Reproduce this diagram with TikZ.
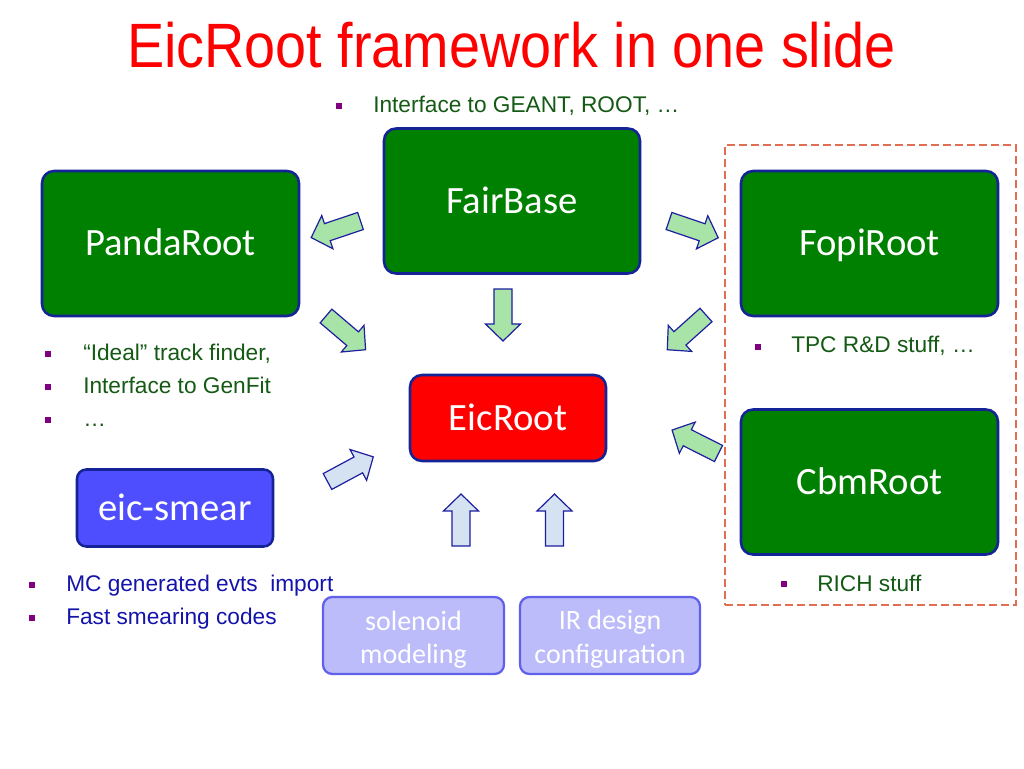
\documentclass[tikz,border=0pt]{standalone}
\usepackage{graphicx}
\usepackage{fontspec}
\setmainfont{Liberation Sans}
\newfontfamily\carlito{Carlito}
\definecolor{boxgreen}{RGB}{0,128,0}
\definecolor{boxborder}{RGB}{20,36,150}
\definecolor{arrgreen}{RGB}{168,228,168}
\definecolor{arrblue}{RGB}{212,226,242}
\definecolor{arrborder}{RGB}{30,30,160}
\definecolor{txtgreen}{RGB}{20,90,20}
\definecolor{txtblue}{RGB}{20,20,170}
\definecolor{bulletc}{RGB}{128,0,128}
\definecolor{smearblue}{RGB}{78,78,255}
\definecolor{lav}{RGB}{188,188,250}
\definecolor{lavborder}{RGB}{96,96,235}
\definecolor{dashred}{RGB}{225,110,80}
\tikzset{
  barrow/.pic={\draw[pic actions] (0,-9) -- (35,-9) -- (35,-17.5) -- (52,0) -- (35,17.5) -- (35,9) -- (0,9) -- cycle;},
  garrow/.style={fill=arrgreen, draw=arrborder, line width=0.9pt, line join=miter},
  larrow/.style={fill=arrblue, draw=arrborder, line width=0.9pt, line join=miter},
  box/.style={draw=boxborder, line width=1.9pt, rounded corners=9pt, inner sep=0pt,
    text=white, font=\carlito\fontsize{29}{35}\selectfont, text height=18.7pt, text depth=0pt},
  bigbox/.style={box, fill=boxgreen, minimum width={257*0.75pt}, minimum height={145*0.75pt}},
  lavbox/.style={draw=lavborder, line width=1.7pt, rounded corners=7pt, fill=lav, inner sep=0pt,
    minimum height={77*0.75pt}},
  lavtxt/.style={anchor=base, inner sep=0pt, text=white, font=\carlito\fontsize{21}{25}\selectfont},
  bullet/.style={fill=bulletc, inner sep=0pt, minimum size=5.2pt},
  txt/.style={anchor=base west, inner sep=0pt, font=\fontsize{17}{20}\selectfont},
  grp/.style={draw=dashred, line width=1pt, dash pattern=on 6pt off 3pt,
    minimum width={291*0.75pt}, minimum height={460*0.75pt}, inner sep=0pt}
}
\begin{document}
\begin{tikzpicture}[x=0.75pt,y=-0.75pt]
\useasboundingbox (0,0) rectangle (1024,768);
\fill[white] (0,0) rectangle (1024,768);

% title
\node[anchor=base, inner sep=0pt, text=red, font=\fontsize{47}{52}\selectfont] (title) at (511.5,67)
  {\scalebox{0.89}[1]{EicRoot framework in one slide}};

% group frame
\node[grp] (group) at (870.5,375) {};

% main boxes
\node[bigbox, minimum width={256*0.75pt}] (fair) at (512,201) {FairBase};
\node[bigbox] (panda) at (170.5,243.5) {PandaRoot};
\node[bigbox] (fopi) at (869.5,243.5) {FopiRoot};
\node[bigbox] (cbm) at (869.5,482) {CbmRoot};
\node[box, fill=red, minimum width={196*0.75pt}, minimum height={86*0.75pt}] (eic) at (508,418) {EicRoot};
\node[box, fill=smearblue, rounded corners=7pt, minimum width={196*0.75pt}, minimum height={77*0.75pt}] (smear) at (175,508) {eic-smear};
\node[lavbox, minimum width={181*0.75pt}] (sol) at (413.5,635.5) {};
\node[lavtxt] (sol1) at (413.5,630) {solenoid};
\node[lavtxt] (sol2) at (413.5,663) {modeling};
\node[lavbox, minimum width={180*0.75pt}] (ir) at (610,635.5) {};
\node[lavtxt] (ir1) at (610,629) {IR design};
\node[lavtxt] (ir2) at (610,663) {configuration};

% block arrows
\pic[garrow, rotate=198.6] (a1) at (360.5,221) {barrow};
\pic[garrow, rotate=-18.8] (a2) at (669,221) {barrow};
\pic[garrow, rotate=-90] (a3) at (503,289) {barrow};
\pic[garrow, rotate=-40.4] (a4) at (326,316) {barrow};
\pic[garrow, rotate=221.9] (a5) at (706,315) {barrow};
\pic[garrow, rotate=153.2] (a6) at (718.5,453.5) {barrow};
\pic[larrow, rotate=28.3] (a7) at (327.5,481.5) {barrow};
\pic[larrow, rotate=90] (a8) at (461,546) {barrow};
\pic[larrow, rotate=90] (a9) at (554.5,546) {barrow};

% bullet texts
\node[bullet] (bu1) at (339,106) {};
\node[txt, text=txtgreen] (t1) at (373,112) {Interface to GEANT, ROOT, …};
\node[bullet] (bu2) at (48,354) {};
\node[txt, text=txtgreen] (t2) at (83,360) {“Ideal” track finder,};
\node[bullet] (bu3) at (48,387) {};
\node[txt, text=txtgreen] (t3) at (83,393) {Interface to GenFit};
\node[bullet] (bu4) at (48,420) {};
\node[txt, text=txtgreen] (t4) at (83,426) {…};
\node[bullet] (bu5) at (32,585) {};
\node[txt, text=txtblue] (t5) at (66,591) {MC generated evts\ \ import};
\node[bullet] (bu6) at (32,618) {};
\node[txt, text=txtblue] (t6) at (66,624) {Fast smearing codes};
\node[bullet] (bu7) at (758,347) {};
\node[txt, text=txtgreen] (t7) at (791,352) {TPC R\&D stuff, …};
\node[bullet] (bu8) at (784,584) {};
\node[txt, text=txtgreen] (t8) at (817,591) {RICH stuff};
\end{tikzpicture}
\end{document}
